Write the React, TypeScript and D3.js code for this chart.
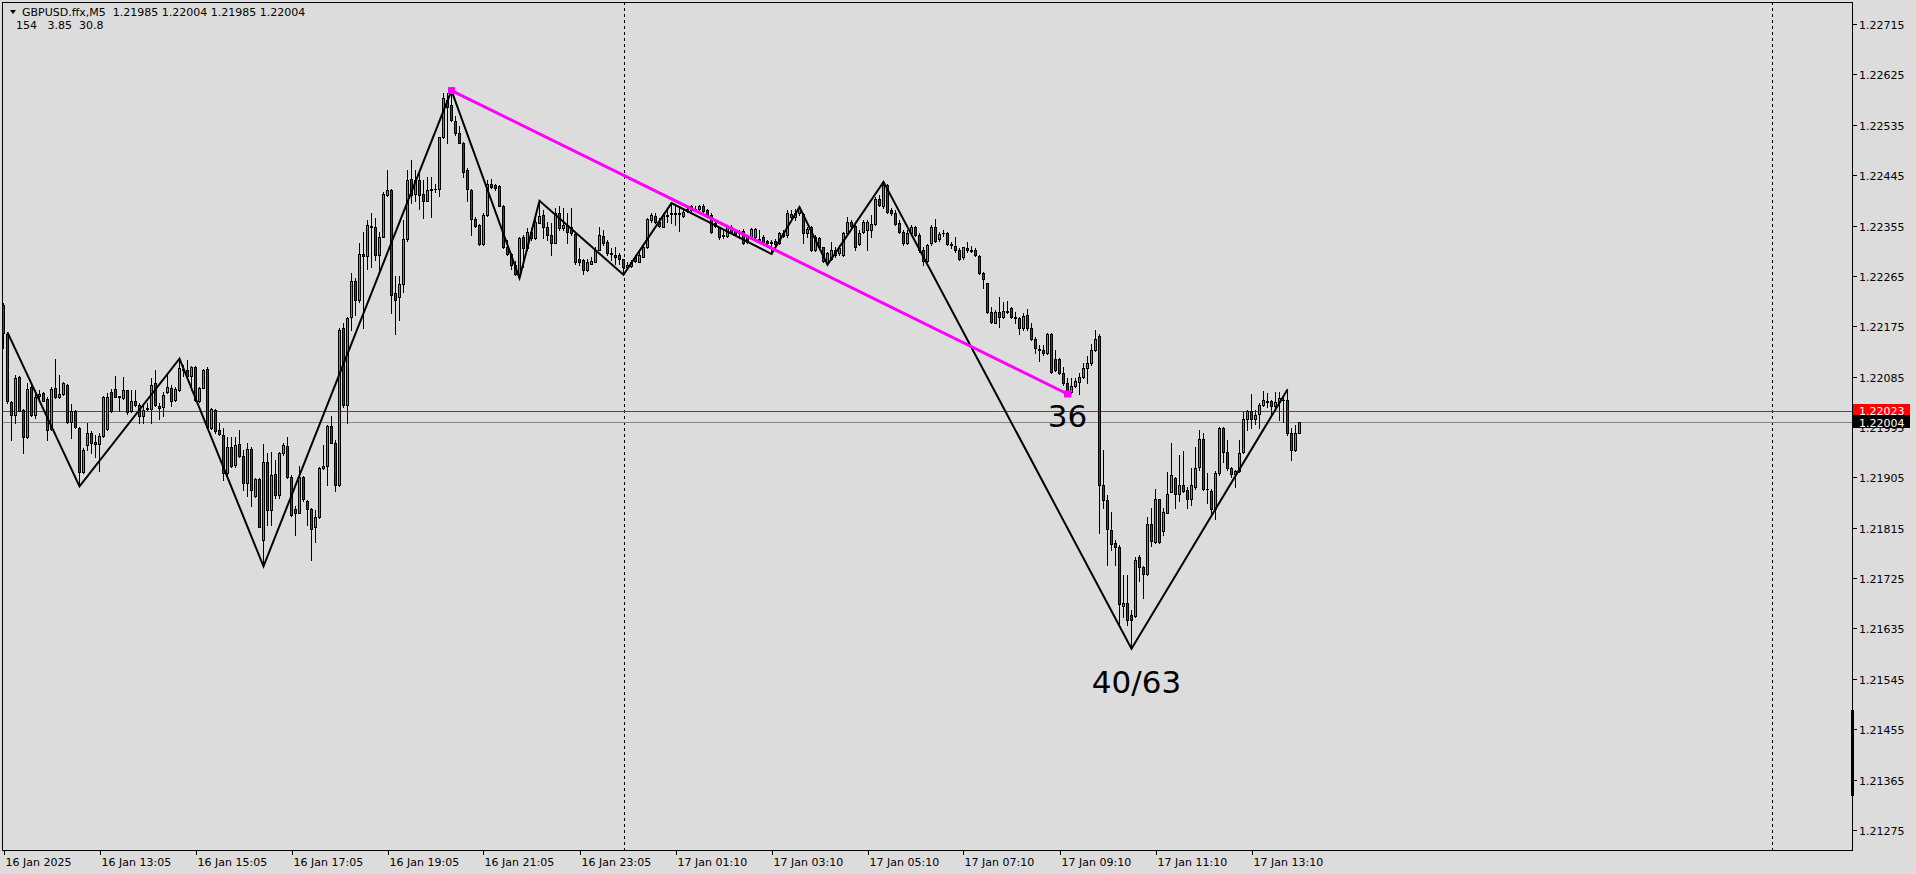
import * as d3 from 'd3'

// GBPUSD M5 bars, prices in points (1e-5) above 1.20000
const BASE = 1.2
const opens = [
  2213,2161,2039,2017,2084,2026,1977,2066,2017,2051, 2055,2045,1991,2064,2048,2054,2070,2004,2024,1994,
  1914,1963,1984,1968,1964,1979,1991,2058,2063,2051, 2047,2061,2023,2042,2035,2014,2027,2027,2073,2033,
  2030,2057,2064,2044,2061,2098,2097,2086,2102,2042, 2065,2098,1993,2026,1989,1980,1913,1959,1927,1964,
  1944,1895,1955,1871,1902,1793,1932,1847,1911,1874, 1949,1961,1906,1848,1842,1905,1862,1848,1816,1834,
  1921,1925,1997,1967,1892,2171,2034,2191,2255,2222, 2304,2301,2354,2353,2302,2335,2410,2418,2234,2227,
  2251,2330,2438,2411,2436,2411,2399,2418,2420,2420, 2513,2580,2570,2542,2520,2503,2454,2418,2366,2356,
  2322,2374,2429,2427,2426,2390,2317,2304,2285,2267, 2334,2314,2344,2332,2360,2374,2353,2338,2324,2377,
  2350,2356,2353,2340,2295,2293,2275,2287,2290,2312, 2336,2326,2305,2303,2302,2295,2280,2283,2299,2290,
  2299,2316,2365,2372,2362,2353,2372,2375,2375,2378, 2372,2381,2389,2383,2384,2389,2383,2374,2359,2350,
  2338,2336,2353,2346,2344,2346,2336,2335,2334,2330, 2335,2327,2326,2328,2323,2342,2338,2375,2371,2377,
  2375,2341,2353,2311,2332,2316,2288,2296,2312,2305, 2302,2342,2362,2354,2322,2344,2347,2347,2358,2403,
  2389,2427,2383,2378,2360,2344,2324,2342,2352,2338, 2312,2292,2323,2353,2330,2341,2342,2322,2318,2312,
  2298,2314,2310,2312,2300,2271,2252,2201,2181,2201, 2192,2201,2207,2192,2190,2171,2195,2171,2153,2135,
  2132,2128,2162,2117,2117,2092,2074,2058,2068,2076, 2084,2100,2109,2132,2157,1891,1864,1811,1788,1781,
  1676,1681,1659,1657,1762,1745,1732,1822,1790,1866, 1810,1842,1879,1903,1875,1891,1882,1867,1887,1923,
  1973,1885,1881,1848,1912,1994,1951,1921,1911,1917, 1951,2009,2024,2010,2019,2034,2042,2042,2032,2040,
  2044,2043,1984,1954,1985,
]
const highs = [
  2216,2164,2041,2088,2086,2027,2073,2073,2061,2061, 2057,2049,2067,2116,2088,2076,2071,2036,2026,1995,
  1957,2003,1987,1981,1984,2051,2055,2063,2086,2051, 2084,2061,2061,2061,2038,2032,2038,2082,2096,2038,
  2058,2091,2070,2066,2117,2106,2115,2104,2104,2067, 2098,2102,2029,2027,2002,1993,1978,1978,1978,1990,
  1954,1967,1960,1904,1904,1965,1949,1951,1936,1951, 1967,1977,1909,1853,1925,1908,1864,1850,1847,1923,
  1963,1999,2015,1972,2171,2180,2191,2270,2262,2323, 2344,2365,2377,2368,2344,2415,2454,2421,2264,2264,
  2365,2454,2472,2454,2448,2436,2442,2442,2430,2514, 2591,2592,2596,2550,2532,2505,2457,2420,2371,2358,
  2377,2436,2438,2430,2427,2392,2329,2305,2291,2334, 2338,2350,2350,2374,2399,2383,2362,2359,2386,2389,
  2386,2377,2387,2341,2314,2296,2296,2299,2317,2353, 2347,2329,2314,2316,2305,2296,2290,2293,2302,2311,
  2320,2368,2377,2377,2368,2377,2383,2395,2389,2389, 2386,2389,2392,2389,2392,2393,2384,2377,2362,2353,
  2347,2356,2356,2348,2347,2348,2338,2350,2350,2347, 2338,2329,2329,2330,2344,2347,2383,2383,2384,2388,
  2377,2353,2354,2338,2335,2317,2308,2326,2316,2320, 2344,2371,2365,2356,2347,2365,2365,2374,2406,2409,
  2433,2430,2387,2383,2365,2347,2347,2356,2354,2341, 2317,2322,2356,2366,2344,2347,2344,2326,2334,2314,
  2317,2326,2318,2314,2302,2272,2253,2210,2204,2228, 2219,2221,2210,2201,2192,2198,2205,2181,2156,2141,
  2141,2163,2163,2132,2119,2103,2082,2082,2082,2091, 2109,2121,2144,2168,2162,1954,1873,1844,1793,1784,
  1730,1730,1668,1763,1766,1747,1835,1850,1884,1867, 1851,1915,1966,1905,1945,1953,1888,1921,1960,1990,
  1984,1913,1884,1917,1995,1995,1972,1924,1919,1972, 2022,2025,2054,2025,2037,2060,2055,2044,2058,2058,
  2052,2062,1993,1998,2004,
]
const lows = [
  2136,2038,1972,2002,2023,1949,1975,2015,2011,2044, 2041,1972,1990,2047,2046,2052,2002,1975,1993,1889,
  1913,1954,1948,1942,1916,1978,1990,2021,2048,2024, 2045,2019,2021,2033,2002,2003,2026,2003,2033,2009,
  2014,2055,2032,2042,2060,2086,2084,2061,2042,2040, 2064,1994,1991,1985,1980,1901,1910,1923,1924,1941,
  1883,1871,1853,1870,1816,1746,1820,1820,1868,1868, 1945,1903,1836,1802,1841,1862,1820,1758,1789,1832,
  1920,1892,1966,1881,1890,2031,2003,2168,2195,2219, 2171,2278,2281,2293,2270,2334,2408,2199,2162,2187,
  2237,2328,2396,2399,2384,2368,2398,2370,2415,2407, 2511,2502,2541,2517,2502,2442,2398,2338,2352,2320,
  2320,2372,2422,2419,2389,2314,2302,2278,2267,2261, 2281,2311,2329,2330,2359,2332,2329,2302,2323,2347,
  2347,2324,2338,2287,2284,2269,2274,2286,2289,2311, 2320,2302,2293,2287,2287,2267,2278,2281,2290,2289,
  2298,2314,2362,2359,2353,2352,2362,2359,2356,2346, 2371,2380,2381,2381,2383,2380,2371,2342,2353,2330,
  2332,2335,2341,2338,2332,2322,2324,2334,2332,2326, 2320,2317,2304,2320,2322,2335,2335,2368,2365,2374,
  2324,2335,2310,2310,2314,2290,2285,2294,2299,2302, 2300,2341,2352,2311,2320,2341,2311,2335,2356,2389,
  2387,2378,2374,2356,2341,2320,2322,2338,2336,2308, 2284,2290,2320,2326,2328,2336,2320,2314,2308,2294,
  2296,2308,2308,2300,2268,2243,2199,2180,2180,2174, 2189,2198,2189,2181,2161,2169,2169,2151,2128,2113,
  2123,2126,2092,2095,2090,2070,2054,2056,2067,2054, 2082,2073,2106,2130,1806,1850,1748,1775,1748,1641,
  1656,1641,1599,1656,1719,1689,1730,1782,1788,1787, 1802,1841,1878,1850,1862,1879,1851,1856,1885,1918,
  1882,1859,1838,1830,1909,1933,1919,1906,1888,1915, 1949,1990,1993,2001,1994,2032,2031,2016,2030,2007,
  2004,1981,1936,1953,1985,
]
const closes = [
  2163,2041,2016,2082,2024,1977,2063,2017,2049,2054, 2042,1990,2063,2048,2054,2073,2004,2024,1995,1914,
  1954,1984,1966,1964,1979,2049,2049,2023,2049,2048, 2061,2021,2042,2035,2014,2026,2029,2070,2035,2029,
  2052,2066,2042,2063,2100,2096,2086,2102,2044,2065, 2096,1995,2027,1987,1983,1913,1959,1926,1963,1943,
  1895,1955,1883,1902,1817,1933,1847,1909,1874,1948, 1963,1906,1838,1842,1906,1866,1848,1812,1834,1921,
  1925,1997,1967,1892,2168,2034,2189,2255,2222,2304, 2301,2356,2352,2302,2335,2412,2418,2231,2222,2251,
  2330,2436,2410,2436,2410,2399,2418,2420,2421,2513, 2582,2567,2544,2520,2503,2451,2420,2366,2354,2322,
  2374,2429,2423,2422,2390,2317,2304,2285,2268,2332, 2314,2344,2332,2362,2372,2353,2338,2323,2378,2350,
  2356,2344,2341,2290,2290,2275,2290,2292,2312,2338, 2324,2305,2304,2299,2296,2280,2284,2289,2292,2302,
  2317,2366,2374,2362,2354,2374,2374,2378,2378,2375, 2380,2384,2383,2384,2390,2381,2374,2344,2354,2335,
  2336,2353,2344,2340,2342,2323,2326,2348,2348,2328, 2323,2324,2324,2322,2342,2336,2377,2371,2378,2386,
  2342,2348,2311,2335,2316,2292,2306,2312,2302,2314, 2342,2362,2354,2316,2342,2362,2362,2358,2402,2392,
  2427,2380,2377,2358,2344,2324,2342,2352,2338,2311, 2292,2320,2352,2328,2340,2342,2322,2320,2312,2296,
  2316,2312,2312,2302,2271,2259,2201,2183,2201,2192, 2203,2203,2191,2190,2171,2193,2171,2153,2137,2132,
  2128,2162,2094,2097,2092,2074,2058,2068,2078,2085, 2100,2109,2132,2153,1891,1864,1812,1786,1781,1679,
  1680,1651,1650,1758,1745,1732,1822,1792,1866,1790, 1844,1875,1909,1875,1891,1881,1867,1891,1921,1973,
  1884,1884,1848,1913,1994,1951,1921,1911,1917,1949, 2009,2024,2009,2016,2034,2044,2040,2032,2040,2046,
  2043,1984,1954,1984,2004,
]

// zigzag swing points: bar index and price (points above 1.20000)
const zigBars = [1, 19, 44, 65, 112, 129, 134, 155, 167, 192, 199, 206, 220, 282, 321]
const zigPrices = [2164, 1889, 2117, 1746, 2596, 2261, 2399, 2267, 2395, 2304, 2388, 2285, 2433, 1599, 2062]

// magenta trend line from the swing high to the later low
const trendBars = [112, 266]
const trendPrices = [2596, 2054]

const timeLabels = [
  '16 Jan 2025', '16 Jan 13:05', '16 Jan 15:05', '16 Jan 17:05', '16 Jan 19:05', '16 Jan 21:05',
  '16 Jan 23:05', '17 Jan 01:10', '17 Jan 03:10', '17 Jan 05:10', '17 Jan 07:10', '17 Jan 09:10',
  '17 Jan 11:10', '17 Jan 13:10',
]
const timeLabelBars = [0, 24, 48, 72, 96, 120, 144, 168, 192, 216, 240, 264, 288, 312]
const daySeparatorBars = [155, 442]

const priceTicks = [
  1.21275, 1.21365, 1.21455, 1.21545, 1.21635, 1.21725, 1.21815, 1.21905, 1.21995,
  1.22085, 1.22175, 1.22265, 1.22355, 1.22445, 1.22535, 1.22625, 1.22715,
]

const symbol = 'GBPUSD.ffx,M5'
const indicatorLine = '154   3.85  30.8'
const askPrice = 2023
const annotations = [
  { bar: 266, price: 2054, text: '36', dy: 33 },
  { bar: 282, price: 1599, text: '40/63', dy: 44 },
]

const BG = '#dcdcdc'
const BULL = '#3cb43c'
const BEAR = '#e00000'
const FONT = 'DejaVu Sans, Verdana, sans-serif'

export default function App() {
  const width = 1916
  const height = 874
  const frame = { left: 2, right: 1852, top: 2, bottom: 850 }

  const x = d3.scaleLinear().domain([0, 462]).range([3.5, 3.5 + 462 * 4])
  const y = d3.scaleLinear().domain([1.21275, 1.22715]).range([830, 24])
  const py = (v: number) => Math.round(y(BASE + v / 1e5)) + 0.5
  const fmt = (v: number) => (BASE + v / 1e5).toFixed(5)

  const last = closes.length - 1
  const header = `${symbol}  ${fmt(opens[last])} ${fmt(highs[last])} ${fmt(lows[last])} ${fmt(closes[last])}`

  const zigLine = d3.line<number>()
    .x((_, i) => x(zigBars[i]))
    .y((_, i) => y(BASE + zigPrices[i] / 1e5))
  const trendLine = d3.line<number>()
    .x((_, i) => x(trendBars[i]))
    .y((_, i) => y(BASE + trendPrices[i] / 1e5))

  const bidY = py(closes[last])
  const askY = py(askPrice)

  return (
    <div style={{ position: 'fixed', left: 0, top: 0, width, height, background: BG }}>
      <svg width={width} height={height} style={{ display: 'block' }} fontFamily={FONT}>
        <rect x={0} y={0} width={width} height={height} fill={BG} />

        {/* header */}
        <polygon points="10,10 16,10 13,14" fill="#000" />
        <text x={22} y={16} fontSize={11} fill="#000" style={{ whiteSpace: 'pre' }}>{header}</text>
        <text x={16} y={29} fontSize={11} fill="#000" style={{ whiteSpace: 'pre' }}>{indicatorLine}</text>

        {/* day separators */}
        {daySeparatorBars.map(b => (
          <line key={b} x1={Math.round(x(b)) + 0.5} x2={Math.round(x(b)) + 0.5} y1={frame.top} y2={frame.bottom}
            stroke="#000" strokeWidth={1} strokeDasharray="3,3" />
        ))}

        {/* bid / ask lines */}
        <line x1={frame.left} x2={frame.right} y1={askY} y2={askY} stroke="#ff0000" strokeWidth={1} />
        <line x1={frame.left} x2={frame.right} y1={bidY} y2={bidY} stroke="#778899" strokeWidth={1} />

        {/* candles */}
        <g>
          {closes.map((c, i) => {
            const o = opens[i]
            const cx = x(i)
            const yo = py(o)
            const yc = py(c)
            const top = Math.min(yo, yc)
            const bot = Math.max(yo, yc)
            return (
              <g key={i}>
                <line x1={cx} x2={cx} y1={py(highs[i]) - 0.5} y2={py(lows[i]) + 0.5} stroke="#000" strokeWidth={1} />
                {bot - top < 1
                  ? <line x1={cx - 1.5} x2={cx + 1.5} y1={top} y2={top} stroke="#000" strokeWidth={1} />
                  : <rect x={cx - 1} y={top} width={2} height={bot - top}
                      fill={c > o ? BULL : BEAR} stroke="#000" strokeWidth={1} />}
              </g>
            )
          })}
        </g>

        {/* zigzag */}
        <path d={zigLine(zigBars) ?? ''} fill="none" stroke="#000" strokeWidth={2} strokeLinejoin="miter" />

        {/* trend line */}
        <path d={trendLine(trendBars) ?? ''} fill="none" stroke="#ff00ff" strokeWidth={3} />
        {trendBars.map((b, i) => (
          <rect key={b} x={x(b) - 3.5} y={y(BASE + trendPrices[i] / 1e5) - 3.5} width={7} height={7} fill="#ff00ff" />
        ))}

        {/* annotations */}
        {annotations.map(a => (
          <text key={a.text} x={x(a.bar) + (a.text.length > 2 ? 5 : 0)} y={y(BASE + a.price / 1e5) + a.dy}
            fontSize={31} textAnchor="middle" fill="#000">{a.text}</text>
        ))}

        {/* frame */}
        <rect x={frame.left + 0.5} y={frame.top + 0.5} width={frame.right - frame.left} height={frame.bottom - frame.top}
          fill="none" stroke="#000" strokeWidth={1} />
        <line x1={frame.right + 0.5} x2={frame.right + 0.5} y1={710} y2={796} stroke="#000" strokeWidth={3} />

        {/* price axis */}
        {priceTicks.map(t => {
          const ty = Math.round(y(t)) + 0.5
          return (
            <g key={t}>
              <line x1={frame.right + 1} x2={frame.right + 5} y1={ty} y2={ty} stroke="#000" />
              <text x={1859} y={ty + 4} fontSize={11} fill="#000">{t.toFixed(5)}</text>
            </g>
          )
        })}
        <rect x={1853} y={askY - 7.5} width={57} height={12} fill="#ff0000" />
        <text x={1859} y={askY + 3} fontSize={11} fill="#fff">{fmt(askPrice)}</text>
        <rect x={1853} y={bidY - 7.5} width={57} height={13} fill="#000" />
        <text x={1859} y={bidY + 4} fontSize={11} fill="#fff">{fmt(closes[last])}</text>

        {/* time axis */}
        {timeLabelBars.map((b, i) => {
          const tx = Math.round(x(b)) + 0.5
          return (
            <g key={b}>
              <line x1={tx} x2={tx} y1={frame.bottom + 1} y2={frame.bottom + 5} stroke="#000" />
              <text x={tx + 1} y={866} fontSize={11} fill="#000">{timeLabels[i]}</text>
            </g>
          )
        })}
      </svg>
    </div>
  )
}
